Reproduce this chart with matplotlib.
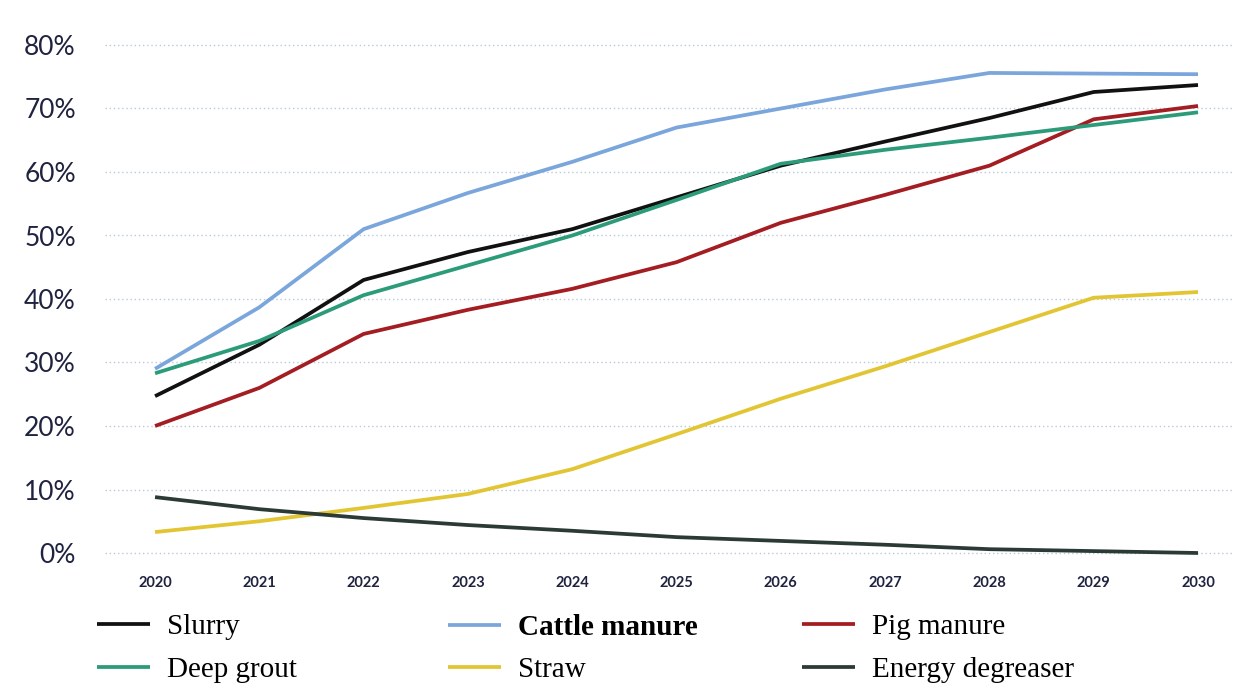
import numpy as np
import matplotlib
matplotlib.use('Agg')
import matplotlib.pyplot as plt

years = [2020, 2021, 2022, 2023, 2024, 2025, 2026, 2027, 2028, 2029, 2030]

slurry = [24.7, 32.8, 43.0, 47.4, 51.0, 56.0, 61.0, 64.8, 68.5, 72.6, 73.7]
cattle_manure = [29.0, 38.7, 51.0, 56.7, 61.6, 67.0, 70.0, 73.0, 75.6, 75.5, 75.4]
pig_manure = [20.0, 26.0, 34.5, 38.3, 41.6, 45.8, 52.0, 56.4, 61.0, 68.3, 70.4]
deep_grout = [28.3, 33.4, 40.6, 45.3, 50.0, 55.6, 61.3, 63.5, 65.4, 67.4, 69.4]
straw = [3.3, 5.0, 7.1, 9.3, 13.2, 18.7, 24.3, 29.4, 34.8, 40.2, 41.1]
energy_degreaser = [8.8, 6.9, 5.5, 4.4, 3.5, 2.5, 1.9, 1.3, 0.6, 0.3, 0.0]

y_ticks = [0, 10, 20, 30, 40, 50, 60, 70, 80]

W, H = 1234, 688
fig = plt.figure(figsize=(W / 100, H / 100), dpi=100)
ax = fig.add_axes([105 / W, 1 - 559.35 / H, 1129 / W, (559.35 - 32.3) / H])

series = [
    ('Slurry', slurry, '#111111'),
    ('Cattle manure', cattle_manure, '#7aa6dc'),
    ('Pig manure', pig_manure, '#a31d22'),
    ('Deep grout', deep_grout, '#2b9b7a'),
    ('Straw', straw, '#e2c532'),
    ('Energy degreaser', energy_degreaser, '#2b3a34'),
]
handles = {}
for name, vals, col in series:
    ln, = ax.plot(years, vals, color=col, lw=2.7, solid_capstyle='butt')
    handles[name] = ln

ax.set_xlim(2019.52, 2030.345)
ax.set_ylim(-1, 82)
ax.set_yticks(y_ticks)
ax.set_yticklabels([f'{v}%' for v in y_ticks])
ax.set_xticks(years)
ax.set_xticklabels([str(y) for y in years])
ax.grid(axis='y', color='#b9c9da', lw=1.0, linestyle=(0, (1, 2)))
ax.set_axisbelow(True)
for s in ax.spines.values():
    s.set_visible(False)
ax.tick_params(axis='both', length=0)
ax.tick_params(axis='y', pad=21, labelsize=19, labelcolor='#1f2340')
ax.tick_params(axis='x', pad=12, labelsize=10.5, labelcolor='#1f2340')
for lab in ax.get_yticklabels():
    lab.set_family('Lato')
for lab in ax.get_xticklabels():
    lab.set_family('Lato')
    lab.set_fontweight('bold')

# legend: three columns placed separately
cols = [(97, ['Slurry', 'Deep grout']),
        (448, ['Cattle manure', 'Straw']),
        (802, ['Pig manure', 'Energy degreaser'])]
for x0, names in cols:
    leg = fig.legend([handles[n] for n in names], names, loc='upper left',
                     bbox_to_anchor=(x0 / W, 1 - 614 / H), frameon=False,
                     borderpad=0, borderaxespad=0, handlelength=1.8,
                     handletextpad=0.6, labelspacing=0.55,
                     prop={'family': 'Liberation Serif', 'size': 21})
    for t in leg.get_texts():
        if t.get_text() == 'Cattle manure':
            t.set_fontweight('bold')

fig.savefig('out.png', dpi=100)
